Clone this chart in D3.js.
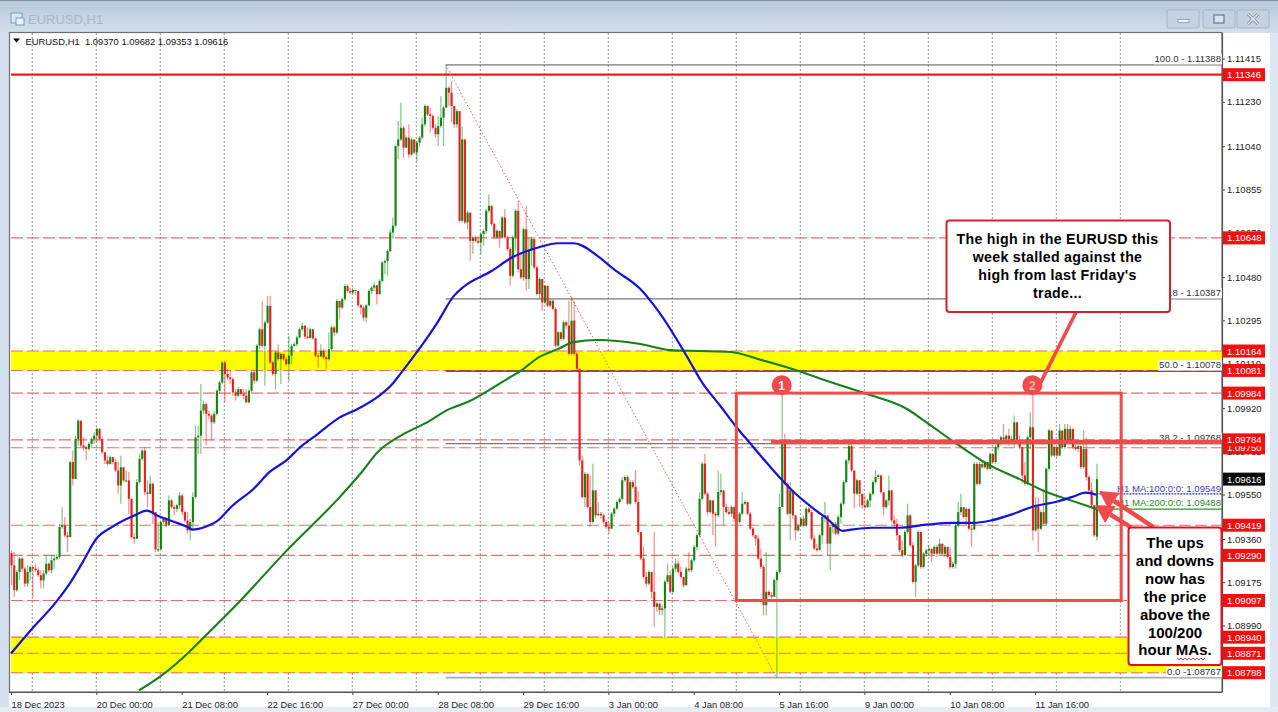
<!DOCTYPE html>
<html><head><meta charset="utf-8">
<script src="https://cdn.jsdelivr.net/npm/d3@7"></script>
<style>html,body{margin:0;padding:0;background:#fff;overflow:hidden}svg{display:block}text{font-family:"Liberation Sans",Arial,sans-serif}</style>
</head><body><svg id="c" width="1278" height="712"></svg>
<script>
// Prices are in points above 1.00000 (9370 = 1.09370); one value per hourly bar
const closes=[9247,9141,9219,9276,9233,9169,9219,9240,9233,9226,9205,9183,9212,9254,9226,9269,9276,9283,9411,9418,9375,9368,9689,9617,9788,9866,9760,9753,9745,9767,9788,9802,9831,9788,9731,9696,9681,9710,9689,9653,9589,9667,9610,9610,9532,9368,9361,9603,9703,9738,9560,9553,9596,9475,9316,9316,9432,9447,9418,9525,9496,9489,9504,9546,9475,9439,9397,9432,9539,9795,9802,9909,9937,9895,9888,9859,9895,9994,10030,10115,10066,10051,10044,9987,9973,10001,9980,9973,9945,9994,10073,10037,10187,10257,10186,10286,10357,10115,10065,10158,10129,10151,10129,10108,10144,10186,10193,10222,10257,10272,10226,10220,10257,10218,10144,10141,10165,10137,10129,10172,10265,10243,10378,10350,10386,10442,10421,10414,10425,10421,10360,10350,10307,10360,10421,10435,10445,10407,10464,10542,10549,10592,10671,10700,11041,11069,11119,11034,11077,11005,11069,11013,11055,11077,11134,11212,11176,11169,11119,11091,11126,11162,11205,11290,11269,11212,11134,11190,10721,11069,10714,10756,10635,10650,10635,10628,10664,10678,10764,10785,10707,10650,10678,10650,10735,10650,10600,10486,10650,10764,10514,10479,10685,10472,10593,10643,10522,10408,10472,10372,10443,10358,10379,10344,10187,10244,10216,10287,10273,10152,10294,10152,10088,9696,9539,9639,9497,9433,9568,9461,9468,9461,9433,9411,9404,9468,9490,9518,9532,9611,9625,9511,9603,9582,9518,9390,9276,9198,9169,9219,9134,9070,9084,9056,9063,9177,9205,9134,9233,9255,9219,9198,9162,9233,9226,9269,9326,9376,9532,9682,9554,9475,9525,9468,9461,9561,9568,9497,9475,9468,9497,9447,9433,9468,9511,9518,9468,9404,9376,9362,9276,9241,9077,9134,9120,9113,9184,9219,9497,9774,9596,9468,9568,9461,9397,9418,9447,9418,9490,9475,9362,9319,9312,9376,9454,9461,9340,9411,9426,9383,9454,9511,9603,9696,9757,9653,9554,9611,9553,9504,9496,9525,9553,9603,9625,9632,9560,9496,9525,9568,9440,9425,9376,9312,9290,9390,9461,9333,9176,9247,9390,9240,9297,9311,9318,9297,9326,9297,9340,9297,9326,9283,9240,9254,9418,9475,9496,9454,9489,9404,9401,9681,9596,9681,9667,9689,9660,9724,9689,9753,9767,9795,9788,9802,9788,9781,9859,9781,9753,9632,9596,9795,9838,9397,9504,9404,9475,9425,9660,9824,9717,9753,9717,9824,9753,9831,9781,9831,9753,9745,9757,9667,9745,9625,9568,9504,9376,9616];
const highs=[9311,9304,9226,9283,9283,9240,9247,9247,9240,9254,9240,9226,9226,9290,9262,9290,9290,9297,9425,9496,9454,9390,9696,9738,9802,9873,9862,9795,9760,9774,9795,9817,9838,9834,9795,9731,9717,9717,9710,9703,9689,9717,9667,9653,9646,9532,9383,9617,9724,9745,9752,9610,9632,9603,9475,9432,9439,9454,9454,9546,9532,9504,9511,9560,9553,9482,9475,9447,9560,9845,9845,10023,9952,9945,9909,9895,9909,10001,10037,10122,10122,10087,10080,10051,10001,10009,10001,10001,10001,10001,10080,10080,10194,10265,10378,10293,10400,10400,10122,10165,10193,10158,10155,10137,10229,10193,10201,10229,10265,10286,10275,10265,10265,10257,10222,10155,10193,10172,10144,10243,10272,10272,10386,10378,10393,10450,10450,10435,10435,10428,10421,10364,10357,10364,10428,10442,10457,10442,10471,10549,10556,10599,10685,10735,11044,11148,11226,11126,11087,11134,11077,11069,11062,11084,11162,11219,11215,11205,11176,11134,11169,11254,11212,11388,11297,11319,11198,11198,11119,11126,11069,10764,10735,10657,10657,10657,10671,10685,10771,10835,10788,10714,10685,10671,10742,10771,10657,10607,10657,10771,10806,10586,10692,10785,10650,10650,10635,10529,10479,10443,10446,10436,10386,10384,10351,10251,10247,10294,10294,10379,10394,10379,10159,10088,9717,9646,9639,9632,9682,9561,9518,9475,9468,9440,9433,9475,9497,9525,9539,9625,9632,9632,9611,9611,9653,9564,9390,9326,9219,9226,9219,9390,9091,9084,9077,9184,9255,9226,9241,9276,9269,9241,9198,9241,9305,9276,9333,9383,9561,9689,9724,9561,9532,9525,9475,9653,9639,9568,9511,9497,9504,9497,9461,9475,9561,9525,9518,9475,9411,9376,9376,9319,9248,9305,9141,9134,9191,9226,9554,9984,9810,9603,9603,9561,9461,9426,9454,9461,9497,9497,9483,9376,9340,9383,9461,9518,9461,9418,9433,9433,9461,9518,9611,9703,9767,9788,9646,9618,9611,9553,9546,9532,9560,9610,9653,9639,9632,9560,9532,9632,9568,9461,9447,9361,9354,9397,9511,9468,9347,9254,9397,9390,9304,9318,9333,9318,9333,9333,9361,9340,9333,9326,9326,9262,9425,9518,9553,9496,9496,9489,9418,9689,9689,9689,9691,9696,9689,9731,9724,9760,9774,9802,9852,9809,9831,9802,9888,9859,9802,9753,9689,9802,9902,9984,9539,9539,9482,9575,9667,9831,9824,9760,9753,9852,9824,9852,9852,9845,9831,9781,9767,9760,9824,9795,9632,9603,9504,9682];
const lows=[9162,9112,9134,9183,9219,9155,9155,9183,9112,9219,9198,9148,9148,9205,9219,9212,9233,9269,9276,9404,9368,9304,9368,9589,9617,9760,9753,9738,9696,9738,9753,9767,9774,9781,9724,9681,9674,9677,9681,9646,9553,9511,9603,9603,9468,9361,9340,9361,9596,9696,9546,9496,9553,9425,9304,9304,9361,9425,9411,9439,9489,9461,9475,9489,9461,9432,9383,9354,9397,9532,9724,9724,9895,9760,9873,9781,9852,9888,9980,10023,9945,10037,10023,9973,9952,9966,9973,9959,9938,9938,9987,10023,10030,10172,10179,10015,10279,10108,10058,10001,10122,10023,10122,10101,10037,10108,10179,10183,10218,10250,10215,10215,10218,10212,10137,10094,10137,10129,10087,10122,10165,10229,10236,10300,10343,10378,10414,10407,10407,10403,10350,10321,10293,10286,10357,10407,10421,10364,10407,10457,10492,10485,10586,10643,10692,10984,11062,10991,11041,10991,10998,11005,10977,11038,11069,11126,11169,11098,11112,11077,11041,11119,11041,11205,11212,11141,11119,11119,10714,10714,10707,10685,10550,10579,10628,10621,10579,10614,10664,10756,10700,10643,10643,10607,10650,10643,10593,10443,10479,10593,10500,10472,10465,10422,10429,10529,10514,10401,10386,10337,10365,10351,10351,10337,10180,10180,10209,10209,10258,10145,10145,10145,10080,9675,9532,9497,9490,9411,9426,9447,9461,9447,9426,9404,9383,9411,9454,9483,9511,9525,9603,9504,9504,9575,9511,9376,9269,9191,9155,9162,9105,8984,9049,9034,9034,8935,9170,9127,9127,9219,9212,9191,9155,9191,9219,9219,9262,9312,9369,9525,9547,9461,9468,9376,9326,9454,9547,9418,9468,9461,9454,9433,9426,9426,9461,9504,9461,9397,9369,9333,9269,9233,9034,9034,9113,9105,9141,8767,9212,9568,9589,9461,9354,9447,9354,9390,9411,9411,9411,9468,9354,9312,9305,9312,9340,9433,9290,9226,9383,9376,9376,9426,9504,9596,9682,9646,9490,9547,9497,9489,9489,9494,9496,9546,9596,9617,9553,9461,9489,9504,9432,9411,9354,9304,9283,9304,9383,9326,9169,9112,9240,9233,9233,9283,9290,9262,9297,9283,9304,9290,9283,9276,9233,9233,9233,9411,9461,9447,9418,9397,9326,9397,9589,9589,9660,9660,9653,9653,9681,9681,9738,9760,9781,9774,9760,9774,9753,9774,9745,9596,9589,9589,9745,9354,9390,9304,9397,9418,9418,9653,9710,9710,9710,9714,9745,9745,9774,9774,9745,9738,9731,9660,9660,9610,9560,9489,9368,9353];

// Moving averages, read at the bar numbers listed
const ma100Bars=[0,7,17,22,27,32,38,46,51,55,61,66,68,73,77,83,91,97,103,109,115,123,130,138,143,146,153,160,166,170,180,188,198,205,211,220,226,236,243,254,259,266,272,278,288,293,301,306,312,315,323,333,343,353,361,367,376,383,392,398,403,407];
const ma100Values=[8870,8964,9092,9169,9263,9361,9412,9459,9481,9459,9434,9412,9400,9412,9434,9502,9575,9647,9694,9758,9809,9878,9916,9972,10023,10066,10172,10288,10399,10441,10505,10565,10608,10625,10625,10570,10514,10429,10330,10130,10032,9929,9839,9758,9626,9566,9489,9447,9395,9400,9408,9408,9421,9429,9429,9438,9468,9498,9519,9540,9558,9549];
const ma200Bars=[48,56,67,73,86,103,123,131,138,146,157,163,172,180,186,191,198,205,211,220,236,247,258,270,280,293,306,321,336,343,353,366,378,388,398,407];
const ma200Values=[8712,8772,8879,8947,9096,9306,9536,9639,9737,9801,9865,9908,9950,10002,10044,10078,10138,10172,10202,10211,10194,10168,10164,10160,10130,10087,10036,9980,9916,9861,9780,9681,9617,9562,9523,9488];

const priceTicks=[11415,11230,11040,10855,10670,10480,10295,10110,9920,9735,9550,9360,9175,8990,8800];
const redLevels=[10648,10164,10081,9984,9750,9784,9419,9290,9097,8940,8871,8788];
const topLevel=11346;
const lastPrice=9616;
const yellowBands=[[10164,10081],[8940,8788]];
const fibBars=[163,287];
const fibLevels=[[11388,"100.0 - 1.11388"],[10387,"61.8 - 1.10387"],[10078,"50.0 - 1.10078"],[9768,"38.2 - 1.09768"],[8767,"0.0 -1.08767"]];
const dateLabels=["18 Dec 2023","20 Dec 00:00","21 Dec 08:00","22 Dec 16:00","27 Dec 00:00","28 Dec 08:00","29 Dec 16:00","3 Jan 00:00","4 Jan 08:00","5 Jan 16:00","9 Jan 00:00","10 Jan 08:00","11 Jan 16:00"];
const callout1Lines=["The high in the EURUSD this","week stalled against the","high from last Friday's","trade..."];
const callout2Lines=["The ups","and downs","now has","the price","above the","100/200","hour MAs."];
const legendText="EURUSD,H1  1.09370 1.09682 1.09353 1.09616";

const fmt=v=>(1+v/1e5).toFixed(5);
const svg=d3.select("#c");
const x=d3.scaleLinear().domain([0,407]).range([11,1096.4]);
const y=d3.scaleLinear().domain([11346,8788]).range([74.7,672.7]);
const W=1222,T=33,B=692,L=11;
const GREEN="#0f860f",RED="#ee1c1c",ANN="#ef4a4c",FS=9.6;

// window chrome
const defs=svg.append("defs");
const g0=defs.append("linearGradient").attr("id","tb").attr("x1",0).attr("x2",0).attr("y1",0).attr("y2",1);
g0.append("stop").attr("offset",0).attr("stop-color","#b7c7d9");
g0.append("stop").attr("offset",1).attr("stop-color","#d3dfec");
svg.append("rect").attr("width",1278).attr("height",712).attr("fill","#fff");
svg.append("rect").attr("width",1278).attr("height",33).attr("fill","url(#tb)");
svg.append("rect").attr("width",1278).attr("height",1).attr("fill","#8795a3");
svg.append("rect").attr("y",33).attr("width",9).attr("height",679).attr("fill","#d3dfed");
svg.append("rect").attr("x",1270).attr("y",33).attr("width",8).attr("height",679).attr("fill","#dde7f4");
svg.append("rect").attr("y",707).attr("width",1278).attr("height",5).attr("fill","#e6ecf3");
svg.append("text").attr("x",28).attr("y",24).attr("font-size",13).attr("fill","#a9b6c4").text("EURUSD,H1");
const ic=svg.append("g").attr("fill","none");
ic.append("rect").attr("x",11).attr("y",13).attr("width",11).attr("height",10).attr("fill","#dbe7f3").attr("stroke","#6d9bc7");
ic.append("rect").attr("x",16).attr("y",18).attr("width",8).attr("height",7).attr("fill","#eef4fa").attr("stroke","#6d9bc7");
[[1167,"m"],[1203,"r"],[1237,"x"]].forEach(([bx,k])=>{
  svg.append("rect").attr("x",bx).attr("y",10).attr("width",32).attr("height",18).attr("rx",1).attr("fill","#c3d1e0").attr("stroke","#a6b6c7");
  const cx=bx+16,cy=19;
  if(k==="m")svg.append("rect").attr("x",cx-5).attr("y",cy+0.5).attr("width",11).attr("height",3).attr("fill","#eef3f8").attr("stroke","#7d8d9e").attr("stroke-width",.7);
  if(k==="r")svg.append("rect").attr("x",cx-5).attr("y",cy-4).attr("width",10).attr("height",8).attr("fill","#d8e3ee").attr("stroke","#66788a").attr("stroke-width",1.2);
  if(k==="x"){svg.append("path").attr("d",`M${cx-5},${cy-5}L${cx+5},${cy+5}M${cx+5},${cy-5}L${cx-5},${cy+5}`).attr("stroke","#7a8a9a").attr("stroke-width",3);
    svg.append("path").attr("d",`M${cx-5},${cy-5}L${cx+5},${cy+5}M${cx+5},${cy-5}L${cx-5},${cy+5}`).attr("stroke","#eef3f8").attr("stroke-width",1.4);}
});

// plot frame
const frame=svg.append("g");
frame.append("rect").attr("x",9.5).attr("y",32.5).attr("width",W-9.5).attr("height",B-32.5).attr("fill","#fff").attr("stroke","#6f6f6f").attr("stroke-width",1.2);

const plot=svg.append("g");
// grid: one line every 24 bars
const gridBars=d3.range(8,417,24);
plot.selectAll(".grid").data(gridBars).join("line").attr("x1",d=>x(d)).attr("x2",d=>x(d)).attr("y1",T).attr("y2",B)
  .attr("stroke","#a8a8a8").attr("stroke-width",1.3).attr("stroke-dasharray","2,2");
// yellow bands
plot.selectAll(".band").data(yellowBands).join("rect").attr("x",L).attr("y",d=>y(d[0])).attr("width",W-L).attr("height",d=>y(d[1])-y(d[0])).attr("fill","#ffff00");
// red dashed levels
plot.selectAll(".lvl").data(redLevels).join("line").attr("x1",L).attr("x2",W).attr("y1",d=>y(d)).attr("y2",d=>y(d))
  .attr("stroke","#f06a6a").attr("stroke-width",1.1).attr("stroke-dasharray","12,4");
plot.append("line").attr("x1",L).attr("x2",W).attr("y1",y(topLevel)).attr("y2",y(topLevel)).attr("stroke","#ee1c1c").attr("stroke-width",2.2);
// fib retracement
plot.append("line").attr("x1",x(fibBars[0])).attr("y1",y(11388)).attr("x2",x(fibBars[1])).attr("y2",y(8767)).attr("stroke","#e8605a").attr("stroke-width",1).attr("stroke-dasharray","1.5,2");
plot.selectAll(".fib").data(fibLevels).join("line").attr("x1",x(fibBars[0])).attr("x2",W).attr("y1",d=>y(d[0])).attr("y2",d=>y(d[0]))
  .attr("stroke",d=>d[0]===10078?"#5a1818":d[0]===8767?"#a8a8a8":"#777").attr("stroke-width",d=>d[0]===8767?1.6:1.2);
const fibT=plot.selectAll(".fibT").data(fibLevels).join("g");
const fibTxt=fibT.append("text").attr("x",W-1).attr("y",d=>y(d[0])-3).attr("text-anchor","end").attr("font-size",FS).attr("fill","#333").text(d=>d[1]);
fibTxt.each(function(d){const w=this.getComputedTextLength();
  d3.select(this.parentNode).insert("rect","text").attr("x",W-w-2).attr("y",y(d[0])-11).attr("width",w+2).attr("height",10.5).attr("fill","#fff");});

// candles
const bars=closes.map((c,i)=>({i,o:i?closes[i-1]:9300,c,h:highs[i],l:lows[i]}));
bars[407].o=9370;
const col=d=>d.c>=d.o?GREEN:RED;
plot.selectAll(".wick").data(bars).join("line").attr("x1",d=>x(d.i)+.5).attr("x2",d=>x(d.i)+.5)
  .attr("y1",d=>y(Math.max(d.h,d.o,d.c))).attr("y2",d=>y(Math.min(d.l,d.o,d.c)))
  .attr("stroke",col).attr("stroke-opacity",.5).attr("stroke-width",1.2);
plot.selectAll(".body").data(bars).join("rect").attr("x",d=>x(d.i)-.5).attr("width",2.1)
  .attr("y",d=>y(Math.max(d.o,d.c))).attr("height",d=>Math.max(1,Math.abs(y(d.o)-y(d.c)))).attr("fill",col);

// moving averages
const lineGen=d3.line().x(d=>x(d[0])).y(d=>y(d[1])).curve(d3.curveMonotoneX);
plot.append("path").attr("d",lineGen(d3.zip(ma200Bars,ma200Values))).attr("fill","none").attr("stroke","#15801a").attr("stroke-width",2.1).attr("stroke-linejoin","round");
plot.append("path").attr("d",lineGen(d3.zip(ma100Bars,ma100Values))).attr("fill","none").attr("stroke","#1414d8").attr("stroke-width",2.2).attr("stroke-linejoin","round");
plot.append("line").attr("x1",x(407)).attr("x2",W).attr("y1",y(9549)-1).attr("y2",y(9549)-1).attr("stroke","#2a2ad8").attr("stroke-width",1.2).attr("stroke-dasharray","2,1");
plot.append("line").attr("x1",x(407)).attr("x2",W).attr("y1",y(9488)).attr("y2",y(9488)).attr("stroke","#2a9a2a").attr("stroke-width",1.3);
plot.append("text").attr("x",W-1).attr("y",y(9549)-3).attr("text-anchor","end").attr("font-size",FS).attr("fill","#3a3ae0").text("H1 MA:100:0:0: 1.09549");
plot.append("text").attr("x",W-1).attr("y",y(9488)-3).attr("text-anchor","end").attr("font-size",FS).attr("fill","#2a8a2a").text("H1 MA:200:0:0: 1.09488");

// legend
plot.append("path").attr("d","M13,38.5h7l-3.5,4z").attr("fill","#000");
plot.append("text").attr("x",25.5).attr("y",45).attr("font-size",9.4).attr("fill","#111").attr("xml:space","preserve").text(legendText);

// axes: price
const yAxis=d3.axisRight(y).tickValues(priceTicks).tickSize(3).tickPadding(2).tickFormat(fmt);
const ya=svg.append("g").attr("transform",`translate(${W},0)`).call(yAxis);
ya.select(".domain").remove();
ya.selectAll("text").attr("font-size",FS).attr("fill","#222").attr("font-family",'"Liberation Sans",Arial,sans-serif').attr("x",5);
ya.selectAll("line").attr("stroke","#444");
svg.append("line").attr("x1",W+.5).attr("x2",W+.5).attr("y1",T).attr("y2",B).attr("stroke","#555").attr("stroke-width",1.2);
// axes: time, one label every 32 bars
const xAxis=d3.axisBottom(x).tickValues(dateLabels.map((_,k)=>k*32)).tickSize(3).tickPadding(3).tickFormat((_,k)=>dateLabels[k]);
const xa=svg.append("g").attr("transform",`translate(0,${B})`).call(xAxis);
xa.select(".domain").attr("stroke","#555").attr("d",`M${9},0.5H${W}`);
xa.selectAll("text").attr("font-size",9.4).attr("fill","#222").attr("text-anchor","start").attr("font-family",'"Liberation Sans",Arial,sans-serif').attr("y",9);
xa.selectAll("line").attr("stroke","#444");

// price tags
const tag=(v,fill)=>{const g=svg.append("g");
  g.append("rect").attr("x",W+1).attr("y",y(v)-6.5).attr("width",42).attr("height",13).attr("fill",fill);
  g.append("text").attr("x",W+5).attr("y",y(v)+3.5).attr("font-size",FS).attr("fill","#fff").text(fmt(v));};
[topLevel,...redLevels].forEach(v=>tag(v,"#f40f0f"));
tag(lastPrice,"#0a0a0a");

// annotations
const ann=svg.append("g");
ann.append("rect").attr("x",x(272)).attr("y",y(9984)).attr("width",x(416.3)-x(272)).attr("height",y(9097)-y(9984)).attr("fill","none").attr("stroke",ANN).attr("stroke-width",3);
ann.append("line").attr("x1",x(285)).attr("x2",W).attr("y1",y(9775)).attr("y2",y(9775)).attr("stroke",ANN).attr("stroke-width",4.5);
// leader to marker 2
const c2={x:x(383),y:y(10018)},c1={x:x(289),y:y(10018)};
ann.append("line").attr("x1",x(402)).attr("y1",y(10390)).attr("x2",c2.x+6).attr("y2",c2.y+2).attr("stroke",ANN).attr("stroke-width",3.6);
[[c1,"1"],[c2,"2"]].forEach(([c,t])=>{
  ann.append("circle").attr("cx",c.x).attr("cy",c.y).attr("r",10).attr("fill",ANN);
  ann.append("text").attr("x",c.x).attr("y",c.y+4.5).attr("text-anchor","middle").attr("font-size",12).attr("font-weight","bold").attr("fill",t==="1"?"#fff":"#f8b0b0").text(t);
});
// arrows towards last bar
const arrow=(x0,y0,x1,y1)=>{const a=Math.atan2(y1-y0,x1-x0),L=18,H=10,mx=x1-L*Math.cos(a),my=y1-L*Math.sin(a),nx=-Math.sin(a),ny=Math.cos(a);
  ann.append("line").attr("x1",x0).attr("y1",y0).attr("x2",mx).attr("y2",my).attr("stroke",ANN).attr("stroke-width",4.5);
  ann.append("path").attr("d",`M${x1},${y1}L${mx+nx*H},${my+ny*H}L${mx-nx*H},${my-ny*H}Z`).attr("fill",ANN);};
arrow(x(428.5),y(9410),x(408),y(9565));
arrow(x(420),y(9410),x(406.5),y(9505));
// callouts
ann.append("rect").attr("x",946.5).attr("y",220.5).attr("width",223.5).attr("height",91.5).attr("rx",3).attr("fill","#fff").attr("stroke","#d8202c").attr("stroke-width",2);
ann.selectAll(".t1").data(callout1Lines).join("text").attr("x",1057.5).attr("y",(d,i)=>243.5+i*18).attr("text-anchor","middle").attr("font-size",14.2).attr("letter-spacing",.3).attr("font-weight","bold").attr("fill","#000").text(d=>d);
ann.append("rect").attr("x",1128.5).attr("y",527.5).attr("width",93).attr("height",137.5).attr("rx",3).attr("fill","#fff").attr("stroke","#e01020").attr("stroke-width",2);
ann.selectAll(".t2").data(callout2Lines).join("text").attr("x",1175).attr("y",(d,i)=>548+i*17.9).attr("text-anchor","middle").attr("font-size",15).attr("font-weight","bold").attr("fill","#000").text(d=>d);
const sq=d3.range(0,15).map(k=>[1177+k*2,k%2?660:658]);
ann.append("path").attr("d",d3.line()(sq)).attr("fill","none").attr("stroke","#c03030").attr("stroke-width",.9);
</script></body></html>
